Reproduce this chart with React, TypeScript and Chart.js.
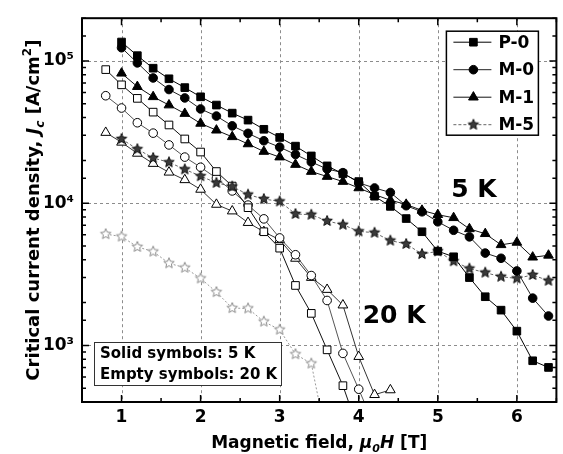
import React, { useEffect, useRef } from 'react';
import { Chart, registerables } from 'chart.js';

Chart.register(...registerables);

// ---------- data ----------
const FIELD_5K = [1.0, 1.2, 1.4, 1.6, 1.8, 2.0, 2.2, 2.4, 2.6, 2.8, 3.0, 3.2, 3.4, 3.6, 3.8, 4.0, 4.2, 4.4, 4.6, 4.8, 5.0, 5.2, 5.4, 5.6, 5.8, 6.0, 6.2, 6.4];
const FIELD_20K = [0.8, 1.0, 1.2, 1.4, 1.6, 1.8, 2.0, 2.2, 2.4, 2.6, 2.8, 3.0, 3.2, 3.4, 3.6, 3.8, 4.0, 4.2, 4.4];

const P0_5K = [1.36e5, 1.09e5, 8.9e4, 7.5e4, 6.5e4, 5.6e4, 4.9e4, 4.3e4, 3.84e4, 3.31e4, 2.9e4, 2.52e4, 2.15e4, 1.83e4, 1.61e4, 1.42e4, 1.12e4, 9.5e3, 7.8e3, 6.3e3, 4.6e3, 4.2e3, 3.0e3, 2.2e3, 1.77e3, 1.26e3, 780, 700];
const M0_5K = [1.24e5, 9.7e4, 7.6e4, 6.3e4, 5.5e4, 4.6e4, 4.1e4, 3.5e4, 3.1e4, 2.75e4, 2.48e4, 2.2e4, 1.95e4, 1.74e4, 1.64e4, 1.39e4, 1.28e4, 1.19e4, 9.6e3, 8.7e3, 7.4e3, 6.45e3, 5.8e3, 4.46e3, 4.1e3, 3.34e3, 2.15e3, 1.61e3];
const M1_5K = [8.2e4, 6.6e4, 5.6e4, 4.9e4, 4.27e4, 3.64e4, 3.26e4, 2.93e4, 2.61e4, 2.31e4, 2.11e4, 1.87e4, 1.67e4, 1.54e4, 1.42e4, 1.28e4, 1.15e4, 1.05e4, 9.8e3, 8.9e3, 8.3e3, 7.9e3, 6.6e3, 6.1e3, 5.1e3, 5.3e3, 4.17e3, 4.3e3];
const M5_5K = [2.83e4, 2.4e4, 2.08e4, 1.94e4, 1.73e4, 1.55e4, 1.39e4, 1.31e4, 1.15e4, 1.07e4, 1.03e4, 8.4e3, 8.3e3, 7.5e3, 7.06e3, 6.34e3, 6.2e3, 5.46e3, 5.17e3, 4.39e3, 4.59e3, 3.91e3, 3.47e3, 3.25e3, 3.04e3, 2.96e3, 3.13e3, 2.85e3];

const P0_20K = [8.7e4, 6.8e4, 5.46e4, 4.37e4, 3.55e4, 2.83e4, 2.29e4, 1.67e4, 1.32e4, 9.3e3, 6.3e3, 4.83e3, 2.64e3, 1.68e3, 931, 521, 250];
const M0_20K = [5.7e4, 4.67e4, 3.68e4, 3.11e4, 2.57e4, 2.11e4, 1.79e4, 1.5e4, 1.22e4, 9.7e3, 7.76e3, 5.7e3, 4.34e3, 3.1e3, 2.07e3, 879, 492, 270];
const M1_20K = [3.14e4, 2.68e4, 2.24e4, 1.9e4, 1.65e4, 1.46e4, 1.25e4, 9.8e3, 8.8e3, 7.3e3, 6.3e3, 5.53e3, 4.09e3, 3.0e3, 2.47e3, 1.92e3, 834, 450, 486];
const M5_20K = [6.06e3, 5.83e3, 4.93e3, 4.57e3, 3.78e3, 3.52e3, 2.96e3, 2.37e3, 1.83e3, 1.82e3, 1.47e3, 1.29e3, 867, 746, 210];

const SERIES = ['P-0', 'M-0', 'M-1', 'M-5'];
const X_TICKS = [1, 2, 3, 4, 5, 6];
const X_TICK_LABELS = ['1', '2', '3', '4', '5', '6'];
const Y_DECADES = [1e3, 1e4, 1e5];
const Y_TICK_LABELS = ['10\u00B3', '10\u2074', '10\u2075'];

const FONT = 'DejaVu Sans';

// ---------- helpers ----------
function toXY(field: number[], vals: number[]) {
  return vals.map((v, i) => ({ x: field[i], y: v }));
}

function makeStar(fill: string, stroke: string, R: number) {
  const s = Math.ceil(R * 2 + 3);
  const c = document.createElement('canvas');
  c.width = s;
  c.height = s;
  const g = c.getContext('2d')!;
  g.beginPath();
  for (let i = 0; i < 10; i++) {
    const r = i % 2 === 0 ? R : R * 0.45;
    const a = -Math.PI / 2 + (i * Math.PI) / 5;
    g.lineTo(s / 2 + r * Math.cos(a), s / 2 + r * Math.sin(a));
  }
  g.closePath();
  g.fillStyle = fill;
  g.fill();
  g.strokeStyle = stroke;
  g.lineWidth = 1;
  g.stroke();
  return c;
}

function drawMarker(ctx: CanvasRenderingContext2D, style: any, x: number, y: number, r: number, fill: string, stroke: string) {
  ctx.save();
  ctx.fillStyle = fill;
  ctx.strokeStyle = stroke;
  ctx.lineWidth = 1;
  ctx.setLineDash([]);
  if (style === 'rect') {
    const h = r * Math.SQRT1_2;
    ctx.beginPath();
    ctx.rect(x - h, y - h, 2 * h, 2 * h);
    ctx.fill();
    ctx.stroke();
  } else if (style === 'circle') {
    ctx.beginPath();
    ctx.arc(x, y, r, 0, Math.PI * 2);
    ctx.fill();
    ctx.stroke();
  } else if (style === 'triangle') {
    ctx.beginPath();
    for (let i = 0; i < 3; i++) {
      const a = (i * 2 * Math.PI) / 3;
      ctx.lineTo(x + Math.sin(a) * r, y - Math.cos(a) * r);
    }
    ctx.closePath();
    ctx.fill();
    ctx.stroke();
  } else if (style && style.width) {
    ctx.drawImage(style, x - style.width / 2, y - style.height / 2);
  }
  ctx.restore();
}

type Run = { t: string; size: number; italic?: boolean; dy?: number };

function runsWidth(ctx: CanvasRenderingContext2D, runs: Run[]) {
  let w = 0;
  for (const r of runs) {
    ctx.font = `${r.italic ? 'italic ' : ''}bold ${r.size}px "${FONT}"`;
    w += ctx.measureText(r.t).width;
  }
  return w;
}

function drawRuns(ctx: CanvasRenderingContext2D, runs: Run[], x: number, y: number) {
  let cx = x;
  for (const r of runs) {
    ctx.font = `${r.italic ? 'italic ' : ''}bold ${r.size}px "${FONT}"`;
    ctx.fillText(r.t, cx, y + (r.dy || 0));
    cx += ctx.measureText(r.t).width;
  }
}

const near = (a: number, b: number) => Math.abs(a / b - 1) < 1e-6;

// ---------- component ----------
export default function App() {
  const ref = useRef<HTMLCanvasElement | null>(null);

  useEffect(() => {
    document.body.style.margin = '0';
    const canvas = ref.current!;

    const starSolid = makeStar('#3a3a3a', '#111', 5.5);
    const starEmpty = makeStar('#ffffff', '#8a8a8a', 5.5);

    const markers: any[] = [
      { style: 'rect', r: 5.4 },
      { style: 'circle', r: 4.3 },
      { style: 'triangle', r: 5.6 },
      { style: null, r: 5.5 },
    ];
    const solidImgs = [null, null, null, starSolid];
    const emptyImgs = [null, null, null, starEmpty];

    const vals5 = [P0_5K, M0_5K, M1_5K, M5_5K];
    const vals20 = [P0_20K, M0_20K, M1_20K, M5_20K];
    const line5 = ['#000', '#222', '#111', '#666'];
    const line20 = ['#111', '#555', '#333', '#999'];
    const dash5 = [[], [], [], [3, 2]];
    const dash20 = [[], [], [], [2, 2]];

    const datasets: any[] = [];
    SERIES.forEach((name, i) => {
      datasets.push({
        label: name,
        data: toXY(FIELD_5K, vals5[i]),
        borderColor: line5[i],
        borderWidth: 1,
        borderDash: dash5[i],
        pointStyle: solidImgs[i] || markers[i].style,
        pointRadius: markers[i].r,
        pointBackgroundColor: '#000',
        pointBorderColor: '#000',
        pointBorderWidth: 1,
        tension: 0,
        fill: false,
      });
    });
    SERIES.forEach((name, i) => {
      datasets.push({
        label: name + ' (20 K)',
        data: toXY(FIELD_20K, vals20[i]),
        borderColor: line20[i],
        borderWidth: 1,
        borderDash: dash20[i],
        pointStyle: emptyImgs[i] || markers[i].style,
        pointRadius: markers[i].r,
        pointBackgroundColor: '#fff',
        pointBorderColor: '#000',
        pointBorderWidth: 1,
        tension: 0,
        fill: false,
      });
    });

    const framePlugin = {
      id: 'frame',
      beforeDatasetsDraw(chart: any) {
        const { ctx, chartArea: a, scales } = chart;
        const x = scales.x;
        const y = scales.y;
        ctx.save();
        ctx.strokeStyle = '#8c8c8c';
        ctx.lineWidth = 1;
        ctx.setLineDash([3, 3]);
        X_TICKS.forEach((v) => {
          const px = Math.round(x.getPixelForValue(v)) + 0.5;
          ctx.beginPath();
          ctx.moveTo(px, a.top);
          ctx.lineTo(px, a.bottom);
          ctx.stroke();
        });
        Y_DECADES.forEach((v) => {
          const py = Math.round(y.getPixelForValue(v)) + 0.5;
          ctx.beginPath();
          ctx.moveTo(a.left, py);
          ctx.lineTo(a.right, py);
          ctx.stroke();
        });
        ctx.restore();
      },
      afterDraw(chart: any) {
        const { ctx, chartArea: a, scales } = chart;
        const x = scales.x;
        const y = scales.y;
        ctx.save();
        ctx.setLineDash([]);
        ctx.strokeStyle = '#000';
        // inward ticks
        ctx.lineWidth = 1.5;
        x.ticks.forEach((t: any) => {
          const major = X_TICKS.some((v) => Math.abs(v - t.value) < 1e-9);
          const len = major ? 7 : 4;
          const px = x.getPixelForValue(t.value);
          ctx.beginPath();
          ctx.moveTo(px, a.bottom);
          ctx.lineTo(px, a.bottom - len);
          ctx.moveTo(px, a.top);
          ctx.lineTo(px, a.top + len);
          ctx.stroke();
        });
        y.ticks.forEach((t: any) => {
          const major = Y_DECADES.some((v) => near(t.value, v));
          const len = major ? 7 : 4;
          const py = y.getPixelForValue(t.value);
          ctx.beginPath();
          ctx.moveTo(a.left, py);
          ctx.lineTo(a.left + len, py);
          ctx.moveTo(a.right, py);
          ctx.lineTo(a.right - len, py);
          ctx.stroke();
        });
        // frame
        ctx.lineWidth = 2;
        ctx.strokeRect(a.left, a.top, a.right - a.left, a.bottom - a.top);

        // axis titles
        ctx.fillStyle = '#000';
        ctx.textBaseline = 'alphabetic';
        ctx.textAlign = 'left';
        const xRuns: Run[] = [
          { t: 'Magnetic field, ', size: 17 },
          { t: '\u03BC', size: 17, italic: true },
          { t: '0', size: 11, italic: true, dy: 4 },
          { t: 'H', size: 17, italic: true },
          { t: ' [T]', size: 17 },
        ];
        const xw = runsWidth(ctx, xRuns);
        drawRuns(ctx, xRuns, (a.left + a.right) / 2 - xw / 2, 448);

        const yRuns: Run[] = [
          { t: 'Critical current density, ', size: 18 },
          { t: 'J', size: 18, italic: true },
          { t: 'c', size: 12, italic: true, dy: 5 },
          { t: ' [A/cm', size: 18 },
          { t: '2', size: 12, dy: -8 },
          { t: ']', size: 18 },
        ];
        const yw = runsWidth(ctx, yRuns);
        ctx.save();
        ctx.translate(33, (a.top + a.bottom) / 2);
        ctx.rotate(-Math.PI / 2);
        drawRuns(ctx, yRuns, -yw / 2, 6);
        ctx.restore();

        // temperature labels
        ctx.font = `bold 25px "${FONT}"`;
        ctx.textBaseline = 'middle';
        ctx.fillText('5 K', x.getPixelForValue(5.17), y.getPixelForValue(1.23e4));
        ctx.fillText('20 K', x.getPixelForValue(4.05), y.getPixelForValue(1.6e3));

        // legend box
        const lx = a.right - 110;
        const ly = a.top + 13;
        ctx.fillStyle = '#fff';
        ctx.fillRect(lx, ly, 92, 104);
        ctx.lineWidth = 1.5;
        ctx.strokeStyle = '#000';
        ctx.strokeRect(lx, ly, 92, 104);
        SERIES.forEach((name, i) => {
          const ry = ly + 11 + i * 27.5;
          ctx.save();
          ctx.strokeStyle = line5[i];
          ctx.lineWidth = 1;
          ctx.setLineDash(dash5[i]);
          ctx.beginPath();
          ctx.moveTo(lx + 7, ry);
          ctx.lineTo(lx + 45, ry);
          ctx.stroke();
          ctx.restore();
          drawMarker(ctx, solidImgs[i] || markers[i].style, lx + 27, ry, markers[i].r, '#000', '#000');
          ctx.fillStyle = '#000';
          ctx.font = `bold 17px "${FONT}"`;
          ctx.textBaseline = 'middle';
          ctx.fillText(name, lx + 52, ry + 1);
        });

        // info box
        const bx = a.left + 12;
        const by = a.bottom - 60;
        ctx.fillStyle = '#fff';
        ctx.fillRect(bx, by, 187, 43);
        ctx.lineWidth = 1;
        ctx.strokeStyle = '#333';
        ctx.strokeRect(bx + 0.5, by + 0.5, 187, 43);
        ctx.fillStyle = '#000';
        ctx.font = `bold 15px "${FONT}"`;
        ctx.textBaseline = 'middle';
        ctx.fillText('Solid symbols: 5 K', bx + 6, by + 12);
        ctx.fillText('Empty symbols: 20 K', bx + 6, by + 33);
        ctx.restore();
      },
    };

    const tickFont = { family: FONT, size: 17, weight: 'bold' as const };

    const chart = new Chart(canvas, {
      type: 'line',
      data: { datasets },
      options: {
        animation: false,
        responsive: false,
        events: [],
        layout: { padding: { top: 9, right: 5, left: 0, bottom: 0 } },
        plugins: { legend: { display: false }, tooltip: { enabled: false } },
        scales: {
          x: {
            type: 'linear',
            min: 0.5,
            max: 6.5,
            grid: { display: false, drawTicks: false },
            border: { display: false },
            ticks: {
              stepSize: 0.5,
              autoSkip: false,
              maxRotation: 0,
              padding: 5,
              color: '#000',
              font: tickFont,
              callback: (v: any) => {
                const i = X_TICKS.findIndex((t) => Math.abs(t - v) < 1e-9);
                return i >= 0 ? X_TICK_LABELS[i] : '';
              },
            },
            afterFit: (s: any) => {
              s.height = 52;
            },
          },
          y: {
            type: 'logarithmic',
            min: 400,
            max: 2e5,
            grid: { display: false, drawTicks: false },
            border: { display: false },
            ticks: {
              autoSkip: false,
              padding: 8,
              color: '#000',
              font: tickFont,
              callback: (v: any) => {
                const i = Y_DECADES.findIndex((d) => near(Number(v), d));
                return i >= 0 ? Y_TICK_LABELS[i] : '';
              },
            },
            afterFit: (s: any) => {
              s.width = 82;
            },
          },
        },
      } as any,
      plugins: [framePlugin],
    });

    return () => chart.destroy();
  }, []);

  return <canvas ref={ref} width={563} height={454} style={{ display: 'block' }} />;
}
